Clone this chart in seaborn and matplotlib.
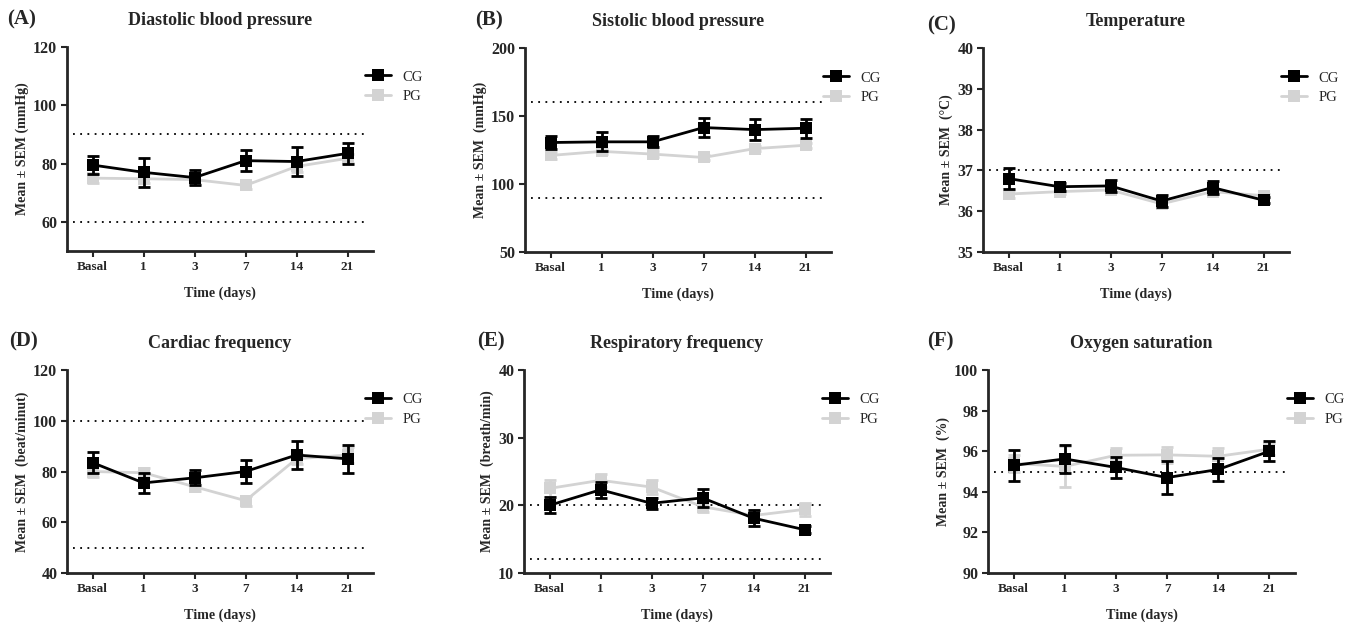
import matplotlib
matplotlib.use("Agg")
import matplotlib.pyplot as plt
import seaborn as sns
import pandas as pd
import numpy as np

# Time points
days = ['Basal', '1', '3', '7', '14', '21']

# (A) Diastolic blood pressure
dia_cg = [79.5, 77.0, 75.2, 81.0, 80.7, 83.5]
dia_cg_sem = [3.0, 5.0, 2.5, 3.5, 5.0, 3.5]
dia_pg = [75.0, 74.8, 74.5, 72.5, 79.0, 81.8]
dia_pg_sem = [1.5, 1.5, 1.5, 1.2, 2.0, 1.5]

# (B) Sistolic blood pressure
sis_cg = [130.5, 131.0, 131.0, 141.5, 140.0, 141.0]
sis_cg_sem = [5.0, 7.0, 4.0, 7.0, 8.0, 7.0]
sis_pg = [121.0, 124.0, 122.0, 119.5, 126.0, 128.5]
sis_pg_sem = [2.5, 2.0, 2.0, 2.0, 2.0, 2.0]

# (C) Temperature
tmp_cg = [36.8, 36.6, 36.62, 36.25, 36.58, 36.27]
tmp_cg_sem = [0.25, 0.1, 0.15, 0.15, 0.15, 0.08]
tmp_pg = [36.42, 36.48, 36.52, 36.18, 36.48, 36.38]
tmp_pg_sem = [0.1, 0.05, 0.05, 0.08, 0.05, 0.05]

# (D) Cardiac frequency
car_cg = [83.5, 75.5, 77.5, 80.0, 86.5, 85.0]
car_cg_sem = [4.0, 4.0, 3.0, 4.5, 5.5, 5.5]
car_pg = [80.0, 79.5, 74.0, 68.5, 85.0, 86.5]
car_pg_sem = [2.0, 2.0, 1.5, 2.0, 2.0, 3.0]

# (E) Respiratory frequency
res_cg = [20.0, 22.3, 20.3, 21.1, 18.1, 16.4]
res_cg_sem = [1.2, 1.2, 0.8, 1.3, 1.2, 0.5]
res_pg = [22.5, 23.7, 22.7, 19.8, 18.5, 19.4]
res_pg_sem = [1.2, 1.0, 1.0, 0.8, 0.5, 1.0]

# (F) Oxygen saturation
oxy_cg = [95.3, 95.62, 95.2, 94.7, 95.1, 96.0]
oxy_cg_sem = [0.75, 0.7, 0.5, 0.8, 0.55, 0.5]
oxy_pg = [95.4, 95.25, 95.8, 95.82, 95.75, 96.1]
oxy_pg_sem = [0.4, 1.0, 0.35, 0.4, 0.4, 0.3]

panels = [
    ("(A)", "Diastolic blood pressure", "Mean ± SEM (mmHg)", dia_cg, dia_cg_sem, dia_pg, dia_pg_sem,
     (50, 120), [60, 80, 100, 120], [90, 60]),
    ("(B)", "Sistolic blood pressure", "Mean ± SEM  (mmHg)", sis_cg, sis_cg_sem, sis_pg, sis_pg_sem,
     (50, 200), [50, 100, 150, 200], [160, 90]),
    ("(C)", "Temperature", "Mean ± SEM  (°C)", tmp_cg, tmp_cg_sem, tmp_pg, tmp_pg_sem,
     (35, 40), [35, 36, 37, 38, 39, 40], [37]),
    ("(D)", "Cardiac frequency", "Mean ± SEM  (beat/minut)", car_cg, car_cg_sem, car_pg, car_pg_sem,
     (40, 120), [40, 60, 80, 100, 120], [100, 50]),
    ("(E)", "Respiratory frequency", "Mean ± SEM  (breath/min)", res_cg, res_cg_sem, res_pg, res_pg_sem,
     (10, 40), [10, 20, 30, 40], [20, 12]),
    ("(F)", "Oxygen saturation", "Mean ± SEM  (%)", oxy_cg, oxy_cg_sem, oxy_pg, oxy_pg_sem,
     (90, 100), [90, 92, 94, 96, 98, 100], [95]),
]

sns.set_style("ticks")
plt.rcParams['font.family'] = ['Liberation Serif', 'DejaVu Serif']

W, H = 1352, 625
fig = plt.figure(figsize=(W / 100, H / 100), dpi=100)

# axes boxes in pixels: left, top, right, bottom
boxes = [(67, 47, 373, 251), (525, 48, 831, 252), (983, 48, 1289, 252),
         (67, 370, 373, 573), (524, 370, 830, 573), (988, 370, 1295, 573)]
label_pos = [(7, 19), (475, 20), (927, 25), (9, 341), (477, 341), (927, 341)]

colors = {'CG': 'black', 'PG': '#d3d3d3'}

for (tag, title, ylab, cg, cg_sem, pg, pg_sem, ylim, yticks, refs), box, lp in zip(panels, boxes, label_pos):
    l, t, r, b = box
    ax = fig.add_axes([l / W, 1 - b / H, (r - l) / W, (b - t) / H])

    df = pd.DataFrame({
        'pos': list(range(len(days))) * 2,
        'mean': cg + pg,
        'sem': cg_sem + pg_sem,
        'group': ['CG'] * len(days) + ['PG'] * len(days),
    })

    for grp, z in [('PG', 2), ('CG', 3)]:
        sub = df[df['group'] == grp]
        ax.errorbar(sub['pos'], sub['mean'], yerr=sub['sem'], fmt='none',
                    ecolor=colors[grp], elinewidth=2, capsize=4, capthick=2, zorder=z)
        sns.lineplot(data=sub, x='pos', y='mean', color=colors[grp], marker='s',
                     markersize=9, markeredgewidth=0, linewidth=2, label=grp, ax=ax, zorder=z)

    for yv in refs:
        ax.axhline(yv, xmin=0.02, xmax=0.98, color='black', linestyle=(0, (1, 3)), linewidth=1.3, zorder=1)

    ax.set_xlim(-0.5, 5.5)
    ax.set_ylim(*ylim)
    ax.set_yticks(yticks)
    ax.set_xticks(range(len(days)))
    ax.set_xticklabels(days, fontsize=9.5, fontweight='bold')
    for lab in ax.get_yticklabels():
        lab.set_fontsize(11.5)
        lab.set_fontweight('bold')
    ax.tick_params(width=1.5, length=4, pad=3)
    ax.set_xlabel("Time (days)", fontsize=10.2, fontweight='bold', labelpad=10)
    ax.set_ylabel(ylab, fontsize=10, fontweight='bold', labelpad=3)
    ax.set_title(title, fontsize=13, fontweight='bold', pad=16)
    for s in ['left', 'bottom']:
        ax.spines[s].set_linewidth(2)
    sns.despine(ax=ax)

    handles, labels = ax.get_legend_handles_labels()
    order = [labels.index('CG'), labels.index('PG')]
    ax.legend([handles[i] for i in order], [labels[i] for i in order],
              loc='upper left', bbox_to_anchor=(0.93, 0.95), frameon=False,
              fontsize=10.5, handlelength=1.8, handletextpad=0.8, labelspacing=0.45)

    fig.text(lp[0] / W, 1 - lp[1] / H, tag, fontsize=15, fontweight='bold', va='center', ha='left')

fig.savefig("out.png", dpi=100)
